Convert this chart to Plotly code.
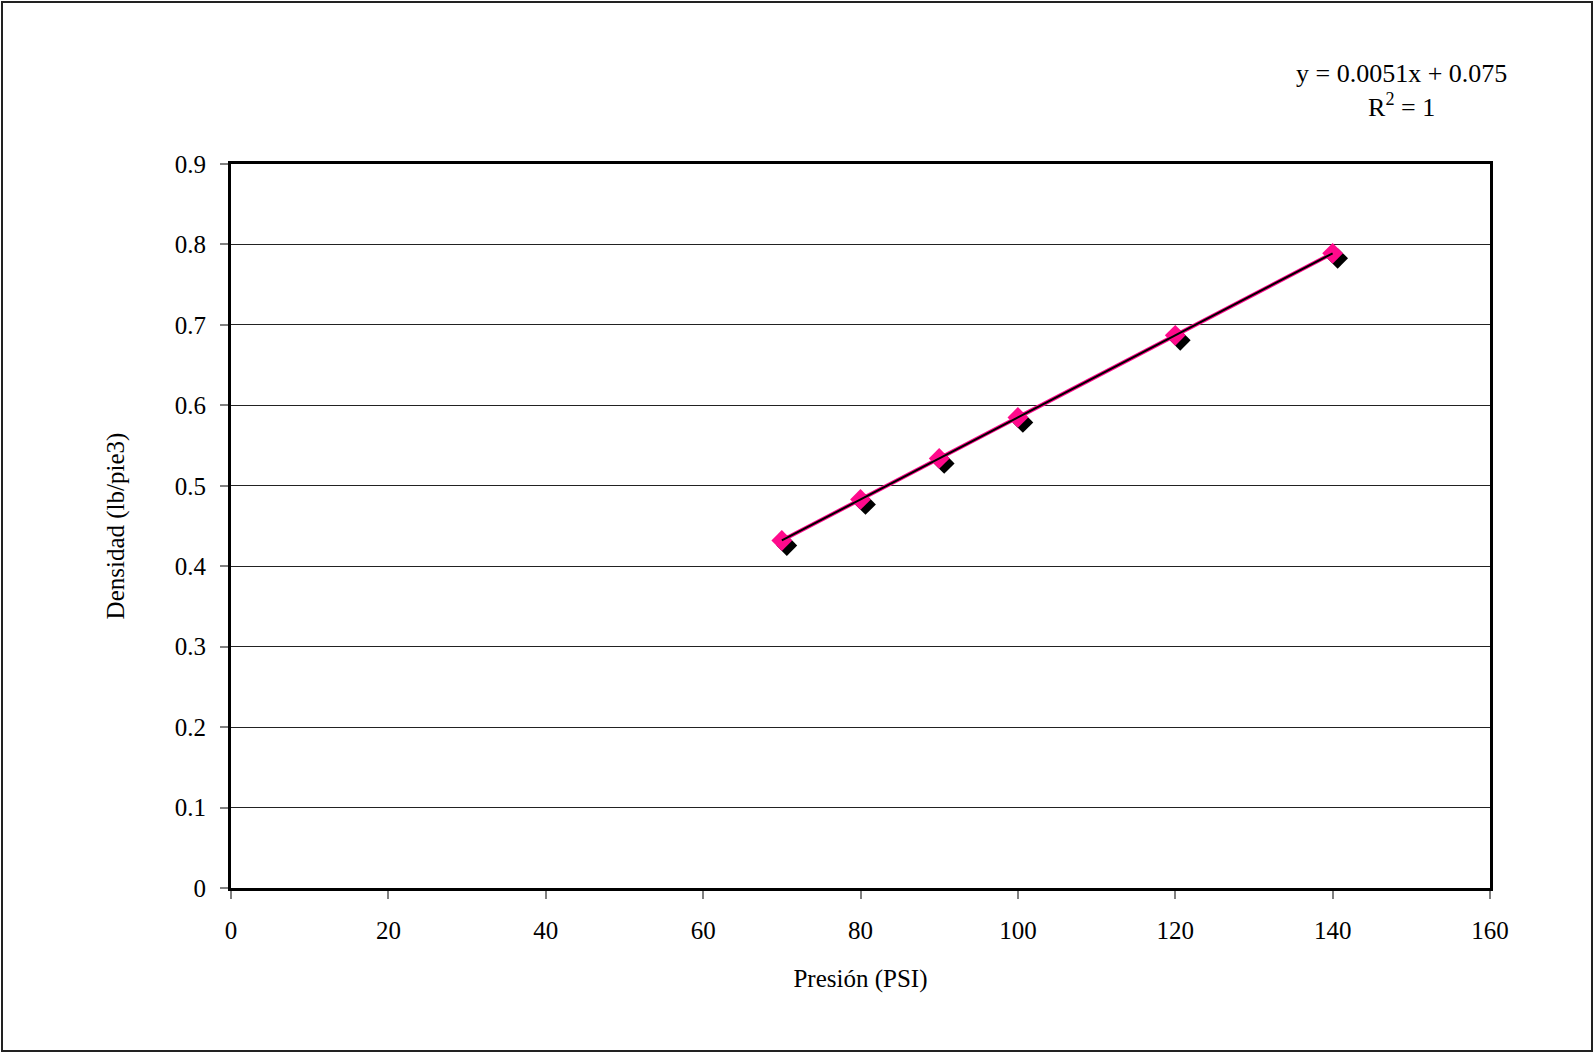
import plotly.graph_objects as go

# ---- data ----
presion = [70, 80, 90, 100, 120, 140]
densidad = [0.432, 0.483, 0.534, 0.585, 0.687, 0.789]
slope = 0.0051
intercept = 0.075
x_ticks = [0, 20, 40, 60, 80, 100, 120, 140, 160]
y_ticks = [0, 0.1, 0.2, 0.3, 0.4, 0.5, 0.6, 0.7, 0.8, 0.9]
eq_text = "y = 0.0051x + 0.075"
r2_text = "R<sup>2</sup> = 1"
x_title = "Presión (PSI)"
y_title = "Densidad (lb/pie3)"

# ---- layout geometry (page px; body margin removed) ----
W, H = 1594, 1053
L, R, T, B = 231, 1490, 164, 888
pw, ph = R - L, B - T
XR = [0, 160]
YR = [0, 0.9]
FONT = "Liberation Serif"
PINK = "#FF0A8C"

# shadow offset in px -> data units
sdx = 5 * (XR[1] - XR[0]) / pw
sdy = 5 * (YR[1] - YR[0]) / ph

trend_x = [min(presion), max(presion)]
trend_y = [slope * v + intercept for v in trend_x]

fig = go.Figure()
# invisible trace on main axes so they render
fig.add_trace(go.Scatter(x=[presion[0]], y=[densidad[0]], mode="markers", xaxis="x", yaxis="y",
                         marker=dict(size=1, color="rgba(0,0,0,0)"),
                         showlegend=False, hoverinfo="skip"))
# shadow markers
fig.add_trace(go.Scatter(x=presion, y=densidad, mode="markers", xaxis="x2", yaxis="y2",
                         marker=dict(symbol="diamond", size=16, color="black"),
                         showlegend=False, cliponaxis=False, hoverinfo="skip"))
# series line + markers
fig.add_trace(go.Scatter(x=presion, y=densidad, mode="lines+markers", xaxis="x3", yaxis="y3",
                         line=dict(color=PINK, width=4),
                         marker=dict(symbol="diamond", size=16, color=PINK),
                         showlegend=False, cliponaxis=False))
# trendline
fig.add_trace(go.Scatter(x=trend_x, y=trend_y, mode="lines", xaxis="x3", yaxis="y3",
                         line=dict(color="black", width=2), showlegend=False, cliponaxis=False,
                         hoverinfo="skip"))

axis_font = dict(family=FONT, size=25, color="black")
common_hidden = dict(showgrid=False, zeroline=False, showticklabels=False, showline=False, ticks="")

fig.update_layout(
    width=W, height=H,
    margin=dict(l=L, r=W - R, t=T, b=H - B),
    paper_bgcolor="white", plot_bgcolor="white",
    font=dict(family=FONT, size=25, color="black"),
    xaxis=dict(range=XR, tickvals=x_ticks, ticktext=[str(v) for v in x_ticks],
               showgrid=False, zeroline=False, showline=True, linecolor="black", linewidth=3,
               mirror=True, ticks="outside", ticklen=8, tickcolor="#808080", tickwidth=2,
               tickfont=axis_font, ticklabelstandoff=10,
               title=dict(text=x_title, font=axis_font, standoff=27)),
    yaxis=dict(range=YR, tickvals=y_ticks, ticktext=[f"{v:g}" for v in y_ticks],
               showgrid=True, gridcolor="#222222", gridwidth=1, zeroline=False,
               showline=True, linecolor="black", linewidth=3, mirror=True,
               ticks="outside", ticklen=8, tickcolor="#808080", tickwidth=2,
               tickfont=axis_font, ticklabelstandoff=9,
               title=dict(text=y_title, font=axis_font, standoff=44)),
    xaxis2=dict(range=[XR[0] - sdx, XR[1] - sdx], overlaying="x", anchor="y2", **common_hidden),
    yaxis2=dict(range=[YR[0] + sdy, YR[1] + sdy], overlaying="y", anchor="x2", **common_hidden),
    xaxis3=dict(range=XR, overlaying="x", anchor="y3", **common_hidden),
    yaxis3=dict(range=YR, overlaying="y", anchor="x3", **common_hidden),
    annotations=[
        dict(text=eq_text + "<br>" + r2_text, xref="paper", yref="paper",
             x=(1401 - L) / pw, y=(B - 91) / ph, xanchor="center", yanchor="middle",
             showarrow=False, align="center", font=dict(family=FONT, size=26, color="black")),
    ],
    shapes=[
        dict(type="rect", xref="paper", yref="paper",
             x0=(2 - L) / pw, x1=(1592 - L) / pw,
             y0=(B - 1051) / ph, y1=(B - 2) / ph,
             line=dict(color="#222222", width=2), fillcolor="rgba(0,0,0,0)", layer="below"),
    ],
)

fig.write_html("out.html", config={"displayModeBar": False},
               post_script="document.body.style.margin='0';document.body.style.overflow='hidden';")
